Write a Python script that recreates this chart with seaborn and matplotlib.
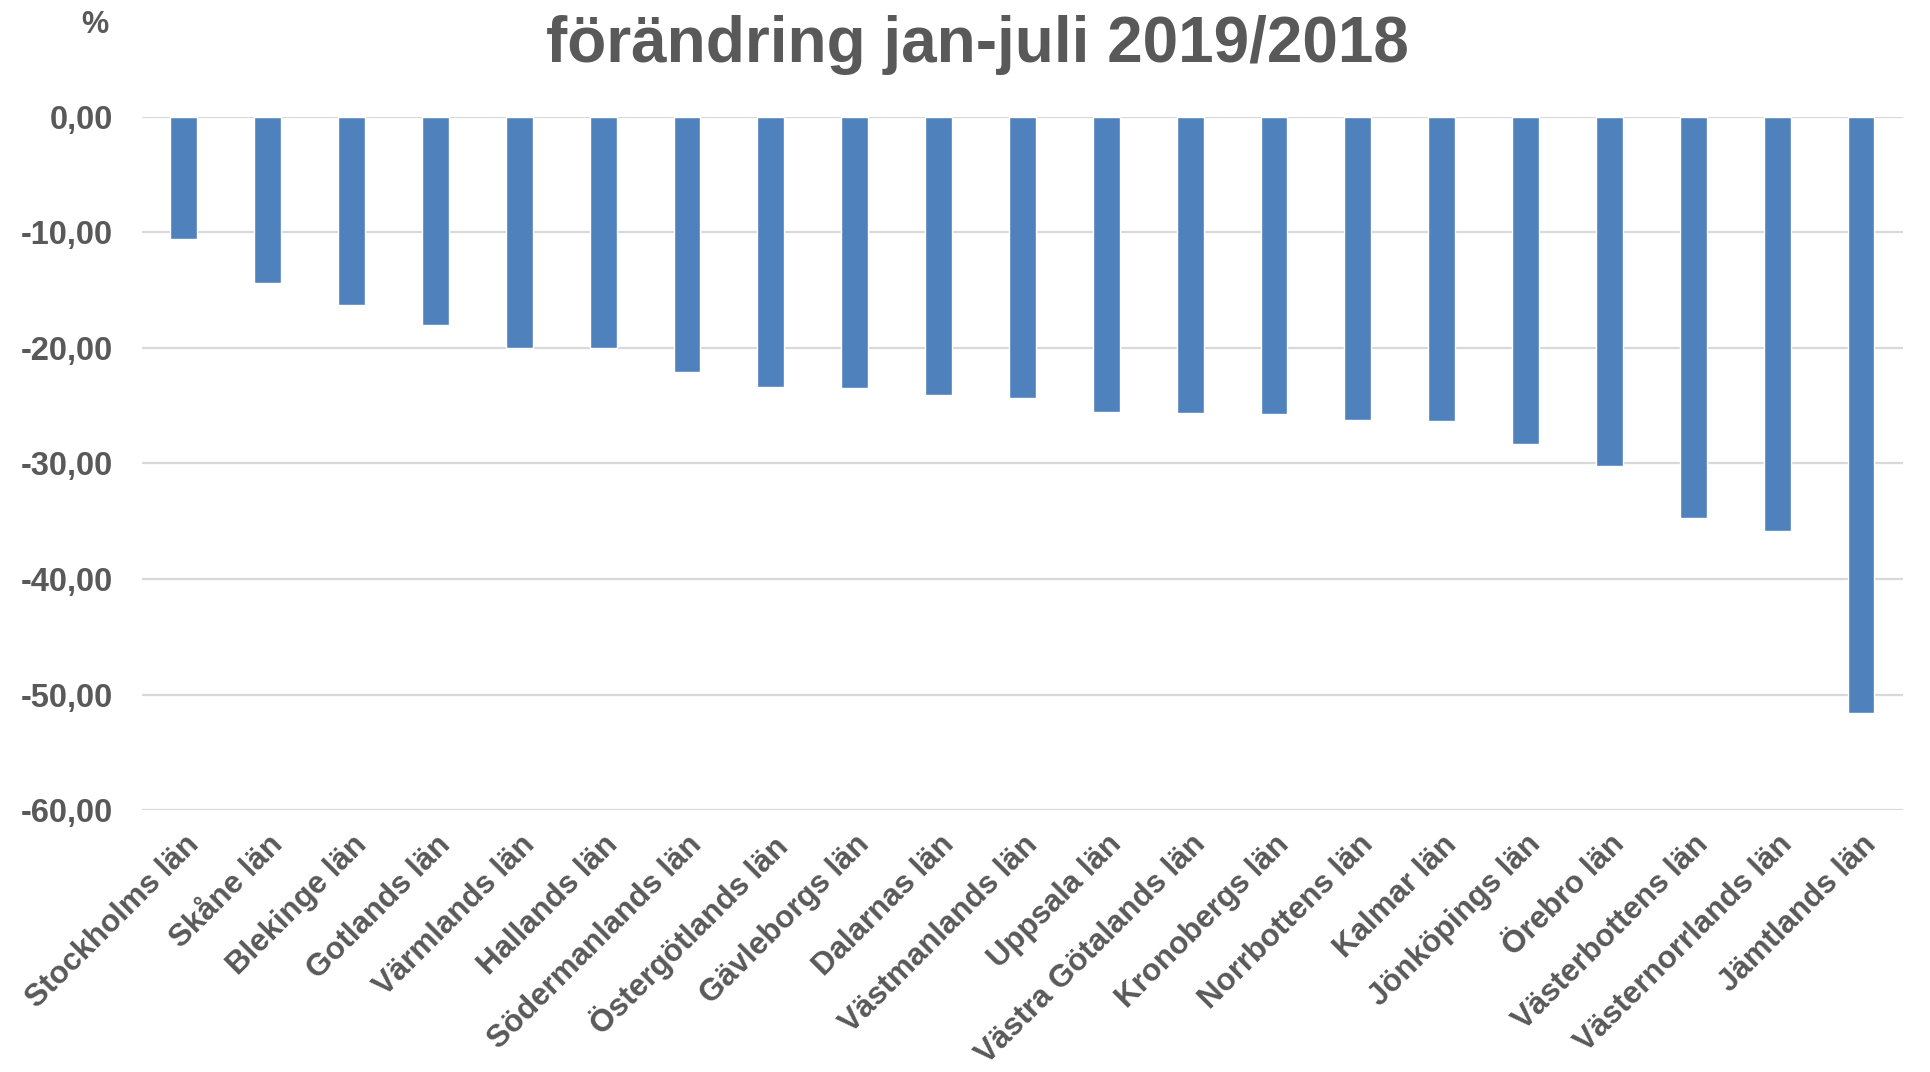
import matplotlib
matplotlib.use("Agg")
import matplotlib.pyplot as plt
import seaborn as sns
import pandas as pd
from matplotlib.ticker import FuncFormatter, MultipleLocator

categories = ["Stockholms län", "Skåne län", "Blekinge län", "Gotlands län", "Värmlands län",
              "Hallands län", "Södermanlands län", "Östergötlands län", "Gävleborgs län",
              "Dalarnas län", "Västmanlands län", "Uppsala län", "Västra Götalands län",
              "Kronobergs län", "Norrbottens län", "Kalmar län", "Jönköpings län",
              "Örebro län", "Västerbottens län", "Västernorrlands län", "Jämtlands län"]
values = [-10.60, -14.35, -16.25, -17.98, -20.00, -20.00, -22.05, -23.40, -23.46,
          -24.09, -24.37, -25.52, -25.64, -25.72, -26.21, -26.33, -28.27, -30.20,
          -34.71, -35.81, -51.58]
title = "förändring jan-juli 2019/2018"
unit = "%"

sns.set_style("white")
plt.rcParams['font.family'] = ['Liberation Sans', 'DejaVu Sans']
gray = "#595959"

df = pd.DataFrame({"lan": categories, "val": values})

fig = plt.figure(figsize=(19.31, 10.72), dpi=100)
ax = fig.add_axes([0.0735, 1 - 810/1072, 0.9855 - 0.0735, (810 - 117)/1072])
sns.barplot(data=df, x="lan", y="val", color="#4f81bd", width=0.32, saturation=1,
            ax=ax, zorder=3)
ax.set_ylim(-60, 0)
ax.set_xlim(-0.5, len(categories) - 0.5)
ax.yaxis.set_major_locator(MultipleLocator(10))
ax.yaxis.set_major_formatter(FuncFormatter(lambda v, p: f"{v:.2f}".replace(".", ",").replace("-0,00", "0,00")))
ax.grid(axis="y", color="#d9d9d9", linewidth=1.6, zorder=0)
ax.grid(axis="x", visible=False)
for s in ax.spines.values():
    s.set_visible(False)
ax.set_xlabel("")
ax.set_ylabel("")
ax.tick_params(axis="y", length=0, pad=21, labelsize=23.5, labelcolor=gray)
ax.tick_params(axis="x", length=0, pad=14, labelsize=22.5, labelcolor=gray)
for lab in ax.get_yticklabels():
    lab.set_fontweight("bold")
for lab in ax.get_xticklabels():
    lab.set_fontweight("bold")
    lab.set_rotation(45)
    lab.set_ha("right")
    lab.set_rotation_mode("anchor")

fig.text(0.506, 1 - 45/1072, title, ha="center", va="center", fontsize=46,
         fontweight="bold", color=gray)
fig.text(95/1931, 1 - 25/1072, unit, ha="center", va="center", fontsize=22,
         fontweight="bold", color=gray)

fig.savefig("out.png", dpi=100)
